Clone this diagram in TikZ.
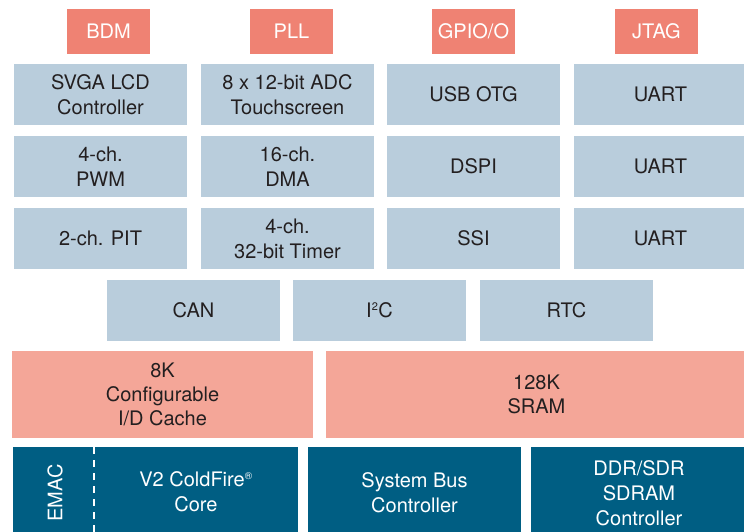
\documentclass[tikz,border=0pt]{standalone}
\usepackage{fontspec}
\setmainfont{TeX Gyre Heros}
\definecolor{topred}{HTML}{EF8273}
\definecolor{greyblue}{HTML}{B9CDDC}
\definecolor{memred}{HTML}{F4A698}
\definecolor{deepteal}{HTML}{005E83}
\definecolor{ink}{HTML}{231F20}
\tikzset{
  blk/.style={inner sep=0pt, outer sep=0pt, align=center, text=ink,
    font=\fontsize{20}{25}\selectfont},
  pin/.style={blk, fill=topred, text=white, minimum width=83pt, minimum height=45pt},
  per/.style={blk, fill=greyblue, minimum width=173pt, minimum height=61pt},
  mem/.style={blk, fill=memred, minimum height=87pt, font=\fontsize{20}{24}\selectfont},
  core/.style={blk, fill=deepteal, text=white, minimum height=92pt},
}
\begin{document}
\begin{tikzpicture}[x=1pt, y=-1pt]
\useasboundingbox (0,0) rectangle (744,531);
\clip (0,0) rectangle (744,531);
% top pins
\node[pin] (bdm) at (108.5,31.5) {BDM};
\node[pin] (pll) at (291.5,31.5) {PLL};
\node[pin] (gpio) at (473.5,31.5) {GPIO/O};
\node[pin] (jtag) at (656.5,31.5) {JTAG};
% peripheral grid
\node[per] (svga) at (100.5,94.5) {SVGA LCD\\Controller};
\node[per] (adc) at (287.5,94.5) {8 x 12-bit ADC\\Touchscreen};
\node[per] (usb) at (473.5,94.5) {USB OTG};
\node[per] (uart1) at (660.5,94.5) {UART};
\node[per] (pwm) at (100.5,166.5) {4-ch.\\PWM};
\node[per] (dma) at (287.5,166.5) {16-ch.\\DMA};
\node[per] (dspi) at (473.5,166.5) {DSPI};
\node[per] (uart2) at (660.5,166.5) {UART};
\node[per] (pit) at (100.5,238.5) {2-ch. PIT};
\node[per] (timer) at (287.5,238.5) {4-ch.\\32-bit Timer};
\node[per] (ssi) at (473.5,238.5) {SSI};
\node[per] (uart3) at (660.5,238.5) {UART};
\node[per] (can) at (193.5,310.5) {CAN};
\node[per] (iic) at (379.5,310.5) {I\textsuperscript{\fontsize{11}{11}\selectfont 2}C};
\node[per] (rtc) at (566.5,310.5) {RTC};
% memory
\node[mem, minimum width=301pt] (cache) at (162.5,394.5) {8K\\Configurable\\I/D Cache};
\node[mem, minimum width=421pt] (sram) at (536.5,394.5) {128K\\SRAM};
% core row
\node[core, minimum width=285pt] (cpu) at (155.5,493) {};
\node[blk, text=white] (cpulabel) at (196,492) {V2 ColdFire\textsuperscript{\fontsize{10}{10}\selectfont\textregistered}\\Core};
\node[blk, text=white, rotate=90] (emac) at (55,493) {EMAC};
\coordinate (dtop) at (94,447);
\coordinate (dbot) at (94,539);
\draw[white, line width=2pt, dash pattern=on 7pt off 6pt] (dtop) -- (dbot);
\node[core, minimum width=213pt] (bus) at (414.5,493) {System Bus\\Controller};
\node[core, minimum width=216pt] (ddr) at (639,493) {DDR/SDR\\SDRAM\\Controller};
\end{tikzpicture}
\end{document}
